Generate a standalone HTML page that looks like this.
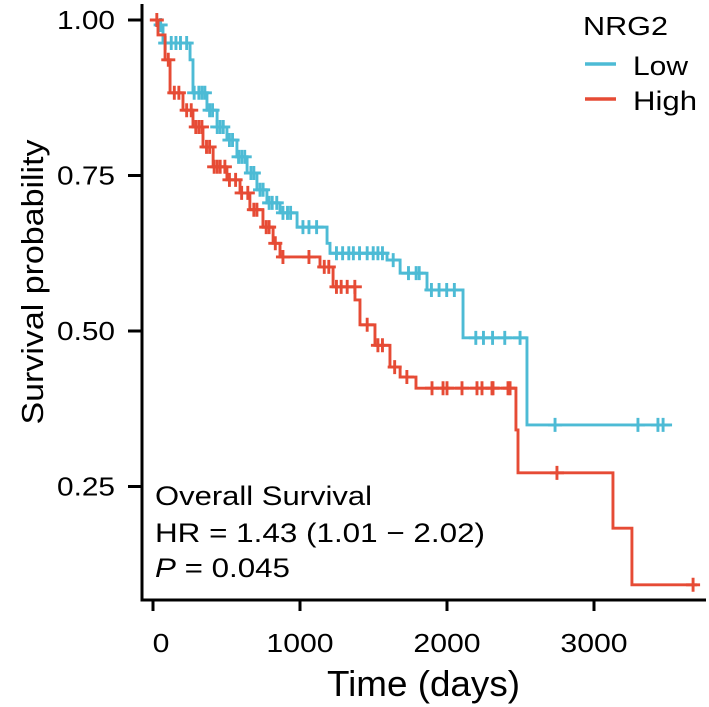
<!DOCTYPE html>
<html><head><meta charset="utf-8"><style>
html,body{margin:0;padding:0;background:#fff}
svg{display:block;font-family:"Liberation Sans",Arial,sans-serif}
</style></head><body>
<svg id="c" width="709" height="707" viewBox="0 0 709 707">
<g id="axes"></g><g id="plot"></g>
<text x="583" y="35" font-size="26" textLength="85" lengthAdjust="spacingAndGlyphs">NRG2</text>
<line x1="585" y1="64" x2="616" y2="64" stroke="#4DBBD5" stroke-width="3.5"/>
<text x="633" y="75" font-size="27" textLength="55" lengthAdjust="spacingAndGlyphs">Low</text>
<line x1="585" y1="99" x2="616" y2="99" stroke="#E64B35" stroke-width="3.5"/>
<text x="633" y="110" font-size="27" textLength="64" lengthAdjust="spacingAndGlyphs">High</text>
<text x="155" y="505" font-size="27" textLength="217" lengthAdjust="spacingAndGlyphs">Overall Survival</text>
<text x="155" y="542" font-size="27" textLength="330" lengthAdjust="spacingAndGlyphs">HR = 1.43 (1.01 − 2.02)</text>
<text x="155" y="577" font-size="27" textLength="135" lengthAdjust="spacingAndGlyphs"><tspan font-style="italic">P</tspan> = 0.045</text>
<text x="327" y="696" font-size="36" textLength="193" lengthAdjust="spacingAndGlyphs">Time (days)</text>
<text transform="translate(43,282) rotate(-90)" font-size="31" text-anchor="middle" textLength="285" lengthAdjust="spacingAndGlyphs">Survival probability</text>
</svg>
<script>
const xTicks=[0,1000,2000,3000];
const yTicks=[0.25,0.50,0.75,1.00];
const lowTimes=[34,68,252,272,367,436,503,571,640,707,775,864,980,1184,1204,1592,1681,1864,2109,2544];
const lowSurv=[0.992,0.963,0.936,0.883,0.855,0.828,0.807,0.780,0.754,0.727,0.706,0.690,0.667,0.641,0.625,0.614,0.593,0.566,0.489,0.349];
const lowEnd=3531;
const lowCensor=[52,83,124,156,187,229,280,312,333,353,385,405,437,457,478,520,541,582,603,624,666,686,728,749,790,811,842,884,915,936,1020,1061,1113,1248,1290,1332,1363,1405,1457,1498,1530,1561,1634,1738,1790,1811,1894,1946,1998,2050,2196,2248,2310,2393,2497,2735,3299,3435,3470];
const highTimes=[34,82,116,204,272,340,409,503,592,659,748,817,864,1136,1225,1374,1408,1510,1612,1681,1789,2469,2483,3129,3258];
const highSurv=[0.976,0.936,0.883,0.855,0.828,0.796,0.764,0.743,0.722,0.695,0.667,0.641,0.619,0.603,0.571,0.550,0.510,0.477,0.442,0.426,0.408,0.341,0.272,0.183,0.092];
const highEnd=3701;
const highCensor=[26,104,145,176,229,260,291,312,333,364,385,416,437,457,489,520,562,603,645,686,707,770,790,832,884,1061,1165,1196,1248,1280,1321,1373,1457,1530,1561,1644,1727,1898,1973,2000,2102,2204,2238,2306,2313,2415,2429,2748,3674];
const X=t=>153+t*0.147;
const Y=s=>20+(1-s)*622;
const NS="http://www.w3.org/2000/svg";
const axes=document.getElementById('axes'),plot=document.getElementById('plot');
function mk(tag,attrs,parent){const e=document.createElementNS(NS,tag);for(const k in attrs)e.setAttribute(k,attrs[k]);parent.appendChild(e);return e;}
let a=mk('line',{x1:142,y1:4,x2:142,y2:601.5,stroke:'#000','stroke-width':3},axes);


a=mk('line',{x1:140.5,y1:600,x2:706,y2:600,stroke:'#000','stroke-width':3},axes);


xTicks.forEach(v=>{const t=mk('line',{x1:X(v),y1:600,x2:X(v),y2:611,stroke:'#000','stroke-width':3},axes);


const s=String(v);
const l=mk('text',{x:X(v)+(v===0?8:0),y:652,'font-size':26,'text-anchor':'middle',textLength:s.length*16.8,lengthAdjust:'spacingAndGlyphs'},axes);l.textContent=s;

});
yTicks.forEach(v=>{const t=mk('line',{x1:128,y1:Y(v),x2:142,y2:Y(v),stroke:'#000','stroke-width':3},axes);


const l=mk('text',{x:115,y:Y(v)+9,'font-size':26,'text-anchor':'end',textLength:58,lengthAdjust:'spacingAndGlyphs'},axes);l.textContent=v.toFixed(2);

});
function survAt(times,surv,t){let s=1;for(let i=0;i<times.length;i++){if(times[i]<=t)s=surv[i];}return s;}
function curve(times,surv,end,cens,color,name){
let d='M'+X(0)+','+Y(1);
times.forEach((t,i)=>{d+=' H'+X(t)+' V'+Y(surv[i]);});
d+=' H'+X(end);
const p=mk('path',{d:d,fill:'none',stroke:color,'stroke-width':2.9},plot);


cens.forEach(t=>{const x=X(t),y=Y(survAt(times,surv,t));
const c=mk('path',{d:`M${x-7},${y} H${x+7} M${x},${y-7} V${y+7}`,stroke:color,'stroke-width':2.9,fill:'none'},plot);

});
}
curve(lowTimes,lowSurv,lowEnd,lowCensor,'#4DBBD5','low');
curve(highTimes,highSurv,highEnd,highCensor,'#E64B35','high');
</script>
</body></html>
